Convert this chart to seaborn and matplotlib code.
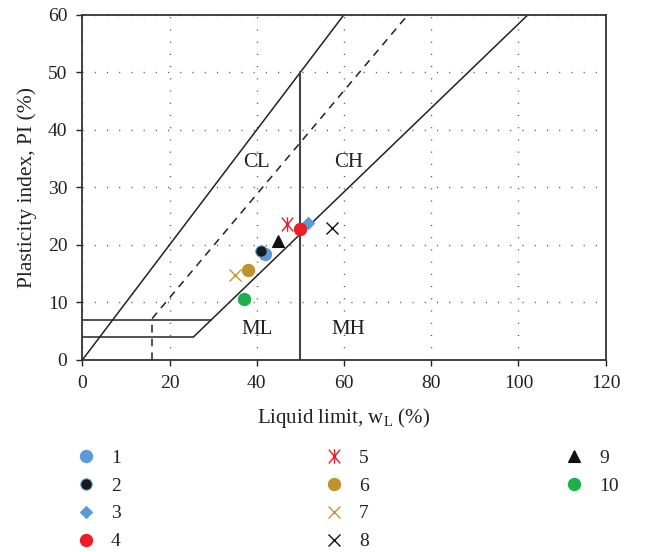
import numpy as np
import pandas as pd
import matplotlib
matplotlib.use("Agg")
import matplotlib.pyplot as plt
from matplotlib.lines import Line2D
from matplotlib.path import Path
import seaborn as sns

# Soil samples: liquid limit (%) and plasticity index (%)
sample_ids = ["1", "2", "3", "4", "5", "6", "7", "8", "9", "10"]
liquid_limit = [42.0, 41.0, 51.8, 50.0, 47.0, 38.0, 34.9, 57.2, 44.9, 37.0]
plasticity_index = [18.5, 18.9, 23.8, 22.7, 23.7, 15.6, 14.8, 22.9, 20.7, 10.6]

# Six-spoke asterisk stretched vertically
asterisk = Path([(0, -1), (0, 1), (-0.78, -0.95), (0.78, 0.95), (-0.78, 0.95), (0.78, -0.95)],
                [Path.MOVETO, Path.LINETO, Path.MOVETO, Path.LINETO, Path.MOVETO, Path.LINETO])

# Marker styling per sample
sample_colors = ["#5B9BD5", "#1A1A1A", "#5B9BD5", "#EE1C25", "#EE1C25",
                 "#C0922E", "#C8962E", "#111111", "#111111", "#1DB04D"]
sample_edges = ["#5B9BD5", "#5B9BD5", "#5B9BD5", "#EE1C25", "#EE1C25",
                "#C0922E", "#C8962E", "#111111", "#111111", "#1DB04D"]
sample_markers = ["o", "o", "D", "o", asterisk, "o", "x", "x", "^", "o"]
line_markers = [False, False, False, False, True, False, True, True, False, False]
sample_sizes = [8.8, 8.2, 6.5, 8.8, 10.5, 8.8, 8.5, 8.5, 8.0, 8.8]

# Plasticity chart boundaries
a_line_ll = [25.48, 102.19]          # PI = 0.73 (LL - 20)
a_line_pi = [4.0, 60.0]
u_line_ll = [16.0, 74.67]            # PI = 0.9 (LL - 8)
u_line_pi = [7.2, 60.0]
u_base_ll = [16.0, 16.0]
u_base_pi = [0.0, 7.2]
diag_ll = [0.0, 60.0]
diag_pi = [0.0, 60.0]
band_low_ll = [0.0, 25.48]
band_low_pi = [4.0, 4.0]
band_high_ll = [0.0, 29.59]
band_high_pi = [7.0, 7.0]
ll50_ll = [50.0, 50.0]
ll50_pi = [0.0, 50.0]

zone_names = ["CL", "CH", "ML", "MH"]
zone_ll = [40.0, 61.0, 40.0, 61.0]
zone_pi = [34.4, 34.4, 5.3, 5.3]

x_ticks = [0, 20, 40, 60, 80, 100, 120]
y_ticks = [0, 10, 20, 30, 40, 50, 60]

sns.set_theme(style="white")
plt.rcParams["font.family"] = ["Liberation Serif", "DejaVu Serif"]
plt.rcParams["mathtext.fontset"] = "custom"
plt.rcParams["mathtext.rm"] = "Liberation Serif"

fig = plt.figure(figsize=(6.47, 5.52), dpi=100)
ax = fig.add_axes([82.3 / 647, (552 - 360) / 552, (605.7 - 82.3) / 647, (360 - 14.7) / 552])

def seg(xs, ys, **kw):
    sns.lineplot(x=xs, y=ys, ax=ax, sort=False, estimator=None, legend=False, **kw)

seg(diag_ll, diag_pi, color="#222222", linewidth=1.1)
seg(a_line_ll, a_line_pi, color="#222222", linewidth=1.1)
seg(u_line_ll, u_line_pi, color="#222222", linewidth=1.1, linestyle=(0, (5, 4)))
seg(u_base_ll, u_base_pi, color="#222222", linewidth=1.1, linestyle=(0, (5, 4)))
seg(band_low_ll, band_low_pi, color="#222222", linewidth=1.1)
seg(band_high_ll, band_high_pi, color="#222222", linewidth=1.1)
seg(ll50_ll, ll50_pi, color="#444444", linewidth=1.5)

for name, x, y in zip(zone_names, zone_ll, zone_pi):
    ax.text(x, y, name, fontsize=15, ha="center", va="center", color="#222222")


def marker_kw(i):
    return dict(linestyle="none", marker=sample_markers[i],
                markersize=sample_sizes[i], markerfacecolor=sample_colors[i],
                markeredgecolor=sample_edges[i],
                markeredgewidth=1.0 if line_markers[i] else 0.8)


df = pd.DataFrame({"LL": liquid_limit, "PI": plasticity_index, "id": sample_ids})
for i, row in df.iterrows():
    ax.plot(row["LL"], row["PI"], zorder=5, **marker_kw(i))

ax.set_xlim(0, 120)
ax.set_ylim(0, 60)
ax.set_xticks(x_ticks)
ax.set_yticks(y_ticks)
ax.tick_params(axis="both", direction="out", length=4.2, width=1, color="#222222",
               labelsize=14, labelcolor="#222222", bottom=True, left=True, pad=6.5)
for s in ax.spines.values():
    s.set_color("#333333")
    s.set_linewidth(1.3)
ax.grid(True, color="#555555", linewidth=1.0, linestyle=(0, (0.8, 8.0)))
ax.set_axisbelow(True)

ax.set_xlabel(r"Liquid limit, w$_\mathregular{L}$ (%)", fontsize=15, color="#222222", labelpad=10)
ax.set_ylabel("Plasticity index, PI (%)", fontsize=15.5, color="#222222", labelpad=8)

handles = [Line2D([], [], **marker_kw(i)) for i in range(len(sample_ids))]

groups = [(0, 4, 72 / 647), (4, 8, 320 / 647), (8, 10, 560 / 647)]
for a, b, xpos in groups:
    leg = fig.legend(handles[a:b], sample_ids[a:b], loc="upper left",
                     bbox_to_anchor=(xpos, 1 - 449 / 552), frameon=False,
                     fontsize=14, handlelength=1.4, handletextpad=0.6,
                     labelspacing=0.53, borderpad=0, borderaxespad=0)
    for t in leg.get_texts():
        t.set_color("#222222")

fig.savefig("out.png", dpi=100)
